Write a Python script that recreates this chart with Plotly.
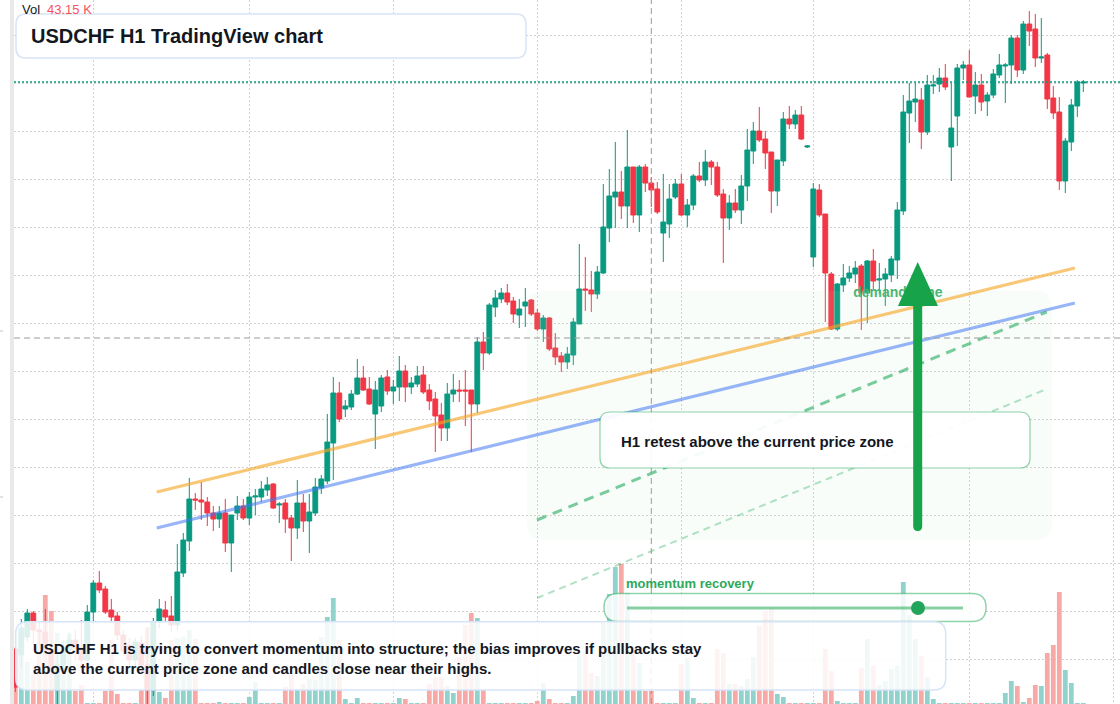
import plotly.graph_objects as go

# ---------------- data (USDCHF H1) ----------------
open_ = [0.79351,0.79345,0.79363,0.79387,0.79370,0.79368,0.79350,0.79310,0.79335,0.79350,0.79360,0.79352,0.79340,
         0.79388,0.79417,0.79411,0.79390,0.79384,0.79365,0.79355,0.79340,0.79357,0.79335,0.79310,0.79378,
         0.79390,0.79384,0.79375,0.79427,0.79459,0.79501,0.79500,0.79498,0.79487,0.79481,0.79487,0.79457,0.79487,0.79494,0.79482,0.79503,0.79503,0.79510,0.79516,0.79495,0.79497,0.79482,0.79472,0.79497,0.79479,0.79487,0.79512,0.79519,
         0.79557,0.79607,0.79591,0.79593,0.79606,0.79622,0.79611,0.79586,0.79594,0.79623,0.79609,0.79613,0.79629,0.79613,0.79616,0.79625,0.79610,0.79601,0.79585,0.79572,0.79606,0.79610,0.79610,0.79610,
         0.79596,0.79658,0.79647,0.79693,0.79701,0.79707,0.79699,0.79685,0.79694,0.79700,0.79687,0.79671,0.79682,0.79652,0.79644,0.79638,0.79645,0.79676,0.79711,0.79710,0.79706,0.79727,0.79772,0.79803,0.79808,0.79794,0.79833,0.79785,0.79833,
         0.79817,0.79811,0.79767,0.79776,0.79803,0.79816,0.79785,0.79795,0.79824,0.79820,0.79838,0.79833,0.79806,0.79782,0.79797,0.79790,0.79814,0.79849,0.79869,0.79861,0.79848,0.79809,0.79839,0.79881,0.79876,
         0.79885,0.79853,0.79743,0.79810,0.79786,0.79726,0.79671,0.79715,0.79722,0.79726,0.79734,0.79707,0.79739,0.79720,0.79721,0.79725,0.79740,0.79789,0.79887,0.79898,0.79900,0.79868,0.79914,0.79916,0.79922,
         0.79853,0.79884,0.79932,0.79935,0.79904,0.79915,0.79899,0.79905,0.79925,0.79934,0.79935,0.79962,0.79930,0.79976,0.79971,0.79942,0.79945,0.79902,0.79888,0.79819,0.79858,0.79894,0.79917]
high = [0.79353,0.79381,0.79391,0.79389,0.79378,0.79391,0.79360,0.79345,0.79360,0.79368,0.79370,0.79380,0.79395,
        0.79420,0.79429,0.79414,0.79401,0.79388,0.79370,0.79362,0.79362,0.79364,0.79372,0.79382,0.79401,
        0.79399,0.79404,0.79456,0.79467,0.79522,0.79507,0.79518,0.79503,0.79494,0.79494,0.79501,0.79485,0.79504,0.79501,0.79508,0.79511,0.79519,0.79523,0.79517,0.79498,0.79501,0.79485,0.79520,0.79506,0.79506,0.79522,0.79525,0.79586,
        0.79623,0.79618,0.79600,0.79610,0.79641,0.79634,0.79623,0.79619,0.79625,0.79630,0.79620,0.79644,0.79635,0.79623,0.79634,0.79634,0.79616,0.79608,0.79597,0.79617,0.79626,0.79620,0.79630,0.79610,
        0.79663,0.79668,0.79697,0.79710,0.79712,0.79716,0.79703,0.79701,0.79712,0.79701,0.79691,0.79685,0.79683,0.79667,0.79648,0.79653,0.79682,0.79756,0.79743,0.79729,0.79734,0.79816,0.79831,0.79858,0.79829,0.79870,0.79833,0.79835,0.79836,
        0.79823,0.79818,0.79826,0.79816,0.79821,0.79826,0.79801,0.79826,0.79838,0.79850,0.79840,0.79838,0.79811,0.79805,0.79811,0.79825,0.79871,0.79878,0.79893,0.79869,0.79848,0.79840,0.79888,0.79894,0.79890,
        0.79894,0.79855,0.79817,0.79816,0.79786,0.79728,0.79717,0.79736,0.79734,0.79739,0.79736,0.79740,0.79751,0.79737,0.79732,0.79744,0.79798,0.79905,0.79917,0.79917,0.79912,0.79925,0.79925,0.79932,0.79936,
        0.79917,0.79936,0.79939,0.79950,0.79928,0.79926,0.79908,0.79931,0.79946,0.79937,0.79965,0.79965,0.79979,0.79989,0.79986,0.79982,0.79947,0.79914,0.79903,0.79862,0.79901,0.79920,0.79920]
low = [0.79308,0.79332,0.79358,0.79355,0.79355,0.79345,0.79325,0.79296,0.79328,0.79345,0.79340,0.79332,0.79335,
       0.79376,0.79407,0.79386,0.79377,0.79360,0.79345,0.79332,0.79332,0.79328,0.79296,0.79304,0.79372,
       0.79378,0.79368,0.79370,0.79423,0.79449,0.79490,0.79480,0.79474,0.79469,0.79472,0.79448,0.79428,0.79480,0.79480,0.79475,0.79485,0.79498,0.79504,0.79491,0.79477,0.79467,0.79439,0.79461,0.79468,0.79447,0.79484,0.79506,0.79516,
       0.79520,0.79578,0.79583,0.79590,0.79605,0.79609,0.79595,0.79551,0.79588,0.79605,0.79596,0.79599,0.79598,0.79606,0.79613,0.79606,0.79590,0.79548,0.79559,0.79559,0.79598,0.79598,0.79574,0.79548,
       0.79587,0.79630,0.79645,0.79683,0.79697,0.79695,0.79677,0.79672,0.79673,0.79684,0.79669,0.79658,0.79649,0.79635,0.79628,0.79631,0.79635,0.79676,0.79689,0.79688,0.79701,0.79726,0.79758,0.79772,0.79781,0.79772,0.79777,0.79768,0.79808,
       0.79793,0.79786,0.79738,0.79762,0.79801,0.79784,0.79773,0.79790,0.79818,0.79814,0.79815,0.79803,0.79737,0.79770,0.79787,0.79776,0.79799,0.79836,0.79858,0.79831,0.79787,0.79794,0.79834,0.79871,0.79871,
       0.79860,0.79852,0.79733,0.79783,0.79678,0.79670,0.79669,0.79708,0.79718,0.79717,0.79670,0.79677,0.79710,0.79706,0.79694,0.79718,0.79721,0.79785,0.79857,0.79878,0.79851,0.79865,0.79906,0.79908,0.79910,
       0.79819,0.79854,0.79920,0.79903,0.79886,0.79889,0.79884,0.79902,0.79922,0.79897,0.79916,0.79923,0.79926,0.79954,0.79933,0.79937,0.79891,0.79881,0.79810,0.79807,0.79849,0.79883,0.79908]
close = [0.79313,0.79372,0.79387,0.79370,0.79368,0.79350,0.79332,0.79335,0.79352,0.79360,0.79352,0.79340,0.79388,
         0.79417,0.79410,0.79388,0.79383,0.79365,0.79349,0.79340,0.79358,0.79335,0.79310,0.79378,0.79391,
         0.79383,0.79375,0.79428,0.79460,0.79501,0.79500,0.79498,0.79487,0.79481,0.79487,0.79457,0.79485,0.79494,0.79482,0.79503,0.79504,0.79511,0.79515,0.79492,0.79496,0.79481,0.79472,0.79497,0.79479,0.79488,0.79513,0.79521,0.79558,
         0.79607,0.79581,0.79594,0.79606,0.79622,0.79610,0.79596,0.79610,0.79622,0.79609,0.79613,0.79629,0.79613,0.79617,0.79624,0.79608,0.79599,0.79584,0.79572,0.79606,0.79610,0.79609,0.79609,0.79596,
         0.79658,0.79647,0.79695,0.79702,0.79707,0.79698,0.79686,0.79691,0.79698,0.79686,0.79671,0.79682,0.79651,0.79643,0.79638,0.79646,0.79678,0.79711,0.79710,0.79706,0.79728,0.79773,0.79804,0.79808,0.79794,0.79833,0.79785,0.79833,0.79817,
         0.79810,0.79788,0.79778,0.79801,0.79816,0.79785,0.79795,0.79824,0.79820,0.79838,0.79833,0.79805,0.79782,0.79797,0.79790,0.79814,0.79850,0.79869,0.79860,0.79847,0.79809,0.79840,0.79881,0.79876,0.79885,
         0.79861,0.79854,0.79811,0.79785,0.79727,0.79671,0.79716,0.79722,0.79727,0.79732,0.79707,0.79739,0.79719,0.79721,0.79726,0.79741,0.79790,0.79888,0.79899,0.79901,0.79868,0.79915,0.79915,0.79922,0.79913,
         0.79872,0.79932,0.79935,0.79903,0.79915,0.79898,0.79905,0.79926,0.79935,0.79935,0.79962,0.79930,0.79976,0.79969,0.79942,0.79943,0.79901,0.79887,0.79819,0.79859,0.79895,0.79918,0.79918]
volume_k = [66.4,222.4,139.4,99.6,239.0,361.9,308.8,235.7,209.2,232.4,43.2,63.1,
            0.4,0.4,0.4,43.2,212.5,33.2,0.4,0.4,0.4,
            46.5,255.6,239.0,39.8,19.9,212.5,219.1,222.4,245.7,215.8,
            0.4,0.4,0.4,6.6,0.4,0.4,0.4,0.4,23.2,73.0,0.4,0.4,0.4,0.4,
            56.4,96.3,49.8,66.4,83.0,79.7,222.4,288.8,351.9,212.5,16.6,0.4,19.9,
            0.4,0.4,0.4,0.4,0.4,0.4,19.9,16.6,0.4,0.4,0.4,
            66.4,89.6,89.6,59.8,36.5,156.0,262.3,302.1,285.5,46.5,
            0.4,0.4,0.4,0.4,0.4,0.4,0.4,0.4,10.0,69.7,16.6,0.4,0.4,0.4,
            26.6,159.4,172.6,102.9,93.0,268.9,365.2,454.8,464.8,368.5,172.6,136.1,43.2,43.15,
            0.4,0.4,0.4,0.4,132.8,152.7,19.9,0.4,0.4,0.4,
            182.6,169.3,66.4,66.4,59.8,83.0,156.0,259.0,308.8,318.7,33.2,23.2,0.4,0.4,
            0.4,0.4,0.4,0.4,182.6,109.6,10.0,0.4,0.4,0.4,
            119.5,215.8,126.2,63.1,76.4,116.2,126.2,405.0,295.5,215.8,159.4,89.6,16.6,
            0.4,0.4,0.4,0.4,0.4,0.4,0.4,0.4,0.4,0.4,0.4,
            36.5,76.4,59.8,6.6,19.9,63.1,59.8,169.3,195.9,371.8,112.9,69.7,0.4,0.4]

# drawing objects in chart values (bar index, price)
orange_trend = ([23.57, 176.6], [0.79508, 0.79732])
blue_trend = ([23.57, 176.6], [0.79472, 0.79697])
green_dash = ([86.95, 171.9], [0.79480, 0.79688])
green_dash_light = ([86.95, 171.9], [0.79402, 0.79611])
last_price = 0.79918
cross_bar, cross_price = 106, 0.79662
demand_label = (147.1, 0.79707)

idx = list(range(len(open_)))
vol_colors = ['#92d2cc' if c >= o else '#f7a9a7' for o, c in zip(open_, close)]

W, H, ML = 1120, 704, 14
PW = W - ML
def px(x): return (x - ML) / PW
def py(y): return 1 - y / H

def rrect(x0, y0, x1, y1, r):
    rx, ry = r / PW, r / H
    X0, X1, Y0, Y1 = px(x0), px(x1), py(y0), py(y1)
    return (f"M{X0+rx},{Y0} L{X1-rx},{Y0} Q{X1},{Y0} {X1},{Y0-ry} L{X1},{Y1+ry} "
            f"Q{X1},{Y1} {X1-rx},{Y1} L{X0+rx},{Y1} Q{X0},{Y1} {X0},{Y1+ry} "
            f"L{X0},{Y0-ry} Q{X0},{Y0} {X0+rx},{Y0} Z")

fig = go.Figure()
fig.add_trace(go.Bar(x=idx, y=volume_k, marker=dict(color=vol_colors, line=dict(width=0)),
                     width=0.8, xaxis='x', yaxis='y', hoverinfo='skip', showlegend=False))
fig.add_trace(go.Candlestick(x=idx, open=open_, high=high, low=low, close=close,
                             xaxis='x', yaxis='y2', whiskerwidth=0, hoverinfo='skip',
                             increasing=dict(line=dict(color='#089981', width=1), fillcolor='#089981'),
                             decreasing=dict(line=dict(color='#f23645', width=1), fillcolor='#f23645'),
                             showlegend=False))
fig.add_trace(go.Scatter(x=[demand_label[0]], y=[demand_label[1]], mode='text', text=['demand zone'],
                         textfont=dict(family='Liberation Sans, Arial, sans-serif', size=14, color='#45b36b', weight='bold'),
                         xaxis='x', yaxis='y2', hoverinfo='skip', showlegend=False))

GRID = '#d2d2d2'
fig.update_layout(
    width=W, height=H, margin=dict(l=ML, r=0, t=0, b=0, pad=0),
    paper_bgcolor='white', plot_bgcolor='white', showlegend=False,
    boxgap=0.2, boxgroupgap=0.0,
    xaxis=dict(range=[-0.217, 184.117], showticklabels=False, tickmode='array',
               tickvals=[13, 39, 63, 87, 111, 133, 159, 183], showgrid=True, gridcolor=GRID,
               griddash='2px,2px', gridwidth=1, zeroline=False, showline=False, ticks='',
               rangeslider=dict(visible=False)),
    yaxis=dict(range=[0, 2337.3], visible=False, showgrid=False, zeroline=False),
    yaxis2=dict(range=[0.79296, 0.80000], overlaying='y', side='right', showticklabels=False,
                tickmode='linear', tick0=0.79965, dtick=0.0004805, showgrid=True, gridcolor=GRID,
                griddash='2px,2px', gridwidth=1, zeroline=False, showline=False, ticks=''),
)

shapes = []
# left scale strip
shapes.append(dict(type='rect', xref='paper', yref='paper', x0=px(10), x1=px(14), y0=0, y1=1,
                   fillcolor='#e9e9e9', line=dict(width=0), layer='above'))
for yy in (331, 497):
    shapes.append(dict(type='line', xref='paper', yref='paper', x0=px(0), x1=px(3), y0=py(yy), y1=py(yy),
                       line=dict(color='#c4c4c4', width=1), layer='above'))
# demand zone
shapes.append(dict(type='path', xref='paper', yref='paper', path=rrect(527, 291, 1052, 540, 16),
                   fillcolor='rgba(190,232,200,0.09)', line=dict(width=0), layer='above'))
# trend lines
shapes.append(dict(type='line', xref='x', yref='y2', x0=orange_trend[0][0], x1=orange_trend[0][1],
                   y0=orange_trend[1][0], y1=orange_trend[1][1],
                   line=dict(color='rgba(245,166,35,0.62)', width=3.2), layer='above'))
shapes.append(dict(type='line', xref='x', yref='y2', x0=blue_trend[0][0], x1=blue_trend[0][1],
                   y0=blue_trend[1][0], y1=blue_trend[1][1],
                   line=dict(color='rgba(66,120,240,0.55)', width=3.2), layer='above'))
shapes.append(dict(type='line', xref='x', yref='y2', x0=green_dash[0][0], x1=green_dash[0][1],
                   y0=green_dash[1][0], y1=green_dash[1][1],
                   line=dict(color='rgba(34,170,90,0.6)', width=3, dash='10px,7px'), layer='above'))
shapes.append(dict(type='line', xref='x', yref='y2', x0=green_dash_light[0][0], x1=green_dash_light[0][1],
                   y0=green_dash_light[1][0], y1=green_dash_light[1][1],
                   line=dict(color='rgba(34,170,90,0.35)', width=2, dash='7px,5px'), layer='above'))
# last price line
shapes.append(dict(type='line', xref='paper', yref='y2', x0=0, x1=1, y0=last_price, y1=last_price,
                   line=dict(color='#089981', width=1.5, dash='2px,2px'), layer='above'))
# crosshair
shapes.append(dict(type='line', xref='x', yref='paper', x0=cross_bar, x1=cross_bar, y0=0, y1=1,
                   line=dict(color='#9a9a9a', width=1, dash='6px,4px'), layer='above'))
shapes.append(dict(type='line', xref='paper', yref='y2', x0=0, x1=1, y0=cross_price, y1=cross_price,
                   line=dict(color='#9a9a9a', width=1, dash='6px,4px'), layer='above'))
# retest box
shapes.append(dict(type='path', xref='paper', yref='paper', path=rrect(600, 412, 1030, 468, 10),
                   fillcolor='rgba(255,255,255,0.93)', line=dict(color='rgba(34,170,90,0.5)', width=1.2), layer='above'))
# big arrow
shaft = (f"M{px(913.2)},{py(300)} L{px(922.2)},{py(300)} L{px(922.2)},{py(526)} "
         f"Q{px(922.2)},{py(531)} {px(917.7)},{py(531)} Q{px(913.2)},{py(531)} {px(913.2)},{py(526)} Z")
shapes.append(dict(type='path', xref='paper', yref='paper', path=shaft,
                   fillcolor='#16a34a', line=dict(width=0), layer='above'))
head = f"M{px(898)},{py(306)} L{px(938)},{py(306)} L{px(917.7)},{py(262)} Z"
shapes.append(dict(type='path', xref='paper', yref='paper', path=head,
                   fillcolor='#16a34a', line=dict(width=0), layer='above'))
# momentum pill
shapes.append(dict(type='path', xref='paper', yref='paper', path=rrect(604, 593.5, 986, 621.5, 14),
                   fillcolor='rgba(255,255,255,0.85)', line=dict(color='rgba(34,170,90,0.5)', width=1.5), layer='above'))
shapes.append(dict(type='line', xref='paper', yref='paper', x0=px(627), x1=px(963), y0=py(608), y1=py(608),
                   line=dict(color='rgba(34,170,90,0.55)', width=3), layer='above'))
shapes.append(dict(type='circle', xref='paper', yref='paper', x0=px(911), x1=px(925), y0=py(615), y1=py(601),
                   fillcolor='#22a55a', line=dict(width=0), layer='above'))
# bottom note box
shapes.append(dict(type='path', xref='paper', yref='paper', path=rrect(15.7, 621.7, 945.7, 690, 12),
                   fillcolor='rgba(255,255,255,0.86)', line=dict(color='#d6e4f7', width=1.5), layer='above'))
# title box
shapes.append(dict(type='path', xref='paper', yref='paper', path=rrect(16, 14, 526, 58, 10),
                   fillcolor='white', line=dict(color='#d6e4f7', width=1.5), layer='above'))
fig.update_layout(shapes=shapes)

FONT = 'Liberation Sans, Arial, sans-serif'
def note(x, y, text, size, color, weight='bold'):
    fig.add_annotation(xref='paper', yref='paper', x=px(x), y=py(y), text=text, showarrow=False,
                       xanchor='left', yanchor='middle', align='left', borderpad=0, borderwidth=0,
                       font=dict(family=FONT, size=size, color=color, weight=weight))

note(22, 9, 'Vol', 13, '#131722', 'normal')
note(47, 9, '43.15 K', 13, '#f7525f', 'normal')
note(31, 36, 'USDCHF H1 TradingView chart', 20, '#131722')
note(621, 441, 'H1 retest above the current price zone', 15, '#131722')
note(626, 583, 'momentum recovery', 13, '#2ea85a')
note(33, 658, 'USDCHF H1 is trying to convert momentum into structure; the bias improves if pullbacks stay<br>'
              'above the current price zone and candles close near their highs.', 15, '#131722')

fig.write_html('out.html')
